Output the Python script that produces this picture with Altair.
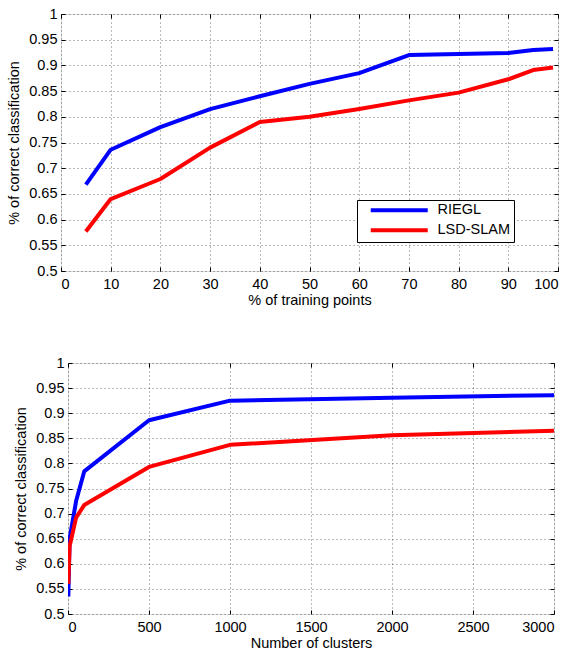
import altair as alt
import pandas as pd

# Classification accuracy vs. percentage of training points
train_pct = [5, 10, 20, 30, 40, 50, 60, 70, 80, 90, 95, 99]
train_riegl = [0.668, 0.736, 0.780, 0.815, 0.840, 0.864, 0.885, 0.920, 0.922, 0.924, 0.930, 0.932]
train_lsd = [0.577, 0.640, 0.679, 0.740, 0.790, 0.800, 0.815, 0.832, 0.847, 0.873, 0.891, 0.896]

# Classification accuracy vs. number of clusters
clusters = [2, 10, 50, 100, 500, 1000, 2000, 3000]
clu_riegl = [0.535, 0.650, 0.725, 0.784, 0.886, 0.925, 0.931, 0.936]
clu_lsd = [0.560, 0.635, 0.692, 0.717, 0.793, 0.837, 0.856, 0.865]

series_names = ["RIEGL", "LSD-SLAM"]
series_colors = ["#0000ff", "#ff0000"]
y_ticks = [0.5 + 0.05 * i for i in range(11)]

FONT = "Liberation Sans"
FS = 14.5
LEG_PAD = 3
TICK = 4  # inward tick length


def long_table(xs, a, b):
    rows = []
    for x, v in zip(xs, a):
        rows.append({"x": x, "y": v, "series": series_names[0]})
    for x, v in zip(xs, b):
        rows.append({"x": x, "y": v, "series": series_names[1]})
    return pd.DataFrame(rows)


text_style = dict(
    labelFont=FONT,
    labelFontSize=FS,
    labelColor="#000000",
    titleFont=FONT,
    titleFontSize=FS,
    titleFontWeight="normal",
    titleColor="#000000",
)
# axes pulled inside the frame so that their ticks point inward
tick_style = dict(domain=False, ticks=True, tickSize=TICK, tickColor="#000000",
                  tickWidth=1, offset=-TICK)


def panel(df, x_domain, x_ticks, x_title, w, h, leg_x, leg_y):
    x_scale = alt.Scale(domain=x_domain, nice=False, zero=False)
    y_scale = alt.Scale(domain=[0.5, 1.0], nice=False, zero=False)
    grid = dict(grid=True, gridColor="#000000", gridDash=[1, 3], gridOpacity=0.55, gridWidth=1)

    lines = (
        alt.Chart(df)
        .mark_line(strokeWidth=4, strokeJoin="round", strokeCap="butt", clip=True)
        .encode(
            x=alt.X(
                "x:Q", scale=x_scale,
                axis=alt.Axis(values=x_ticks, title=x_title, labelPadding=6,
                              titlePadding=3, format="d", **grid, **tick_style, **text_style),
            ),
            y=alt.Y(
                "y:Q", scale=y_scale,
                axis=alt.Axis(values=y_ticks, title="% of correct classification",
                              format=".2~f", labelPadding=4, titlePadding=7,
                              **grid, **tick_style, **text_style),
            ),
            color=alt.Color(
                "series:N",
                scale=alt.Scale(domain=series_names, range=series_colors),
                legend=alt.Legend(
                    title=None,
                    orient="none",
                    legendX=leg_x,
                    legendY=leg_y,
                    symbolType="M-5.7,0L5.7,0",
                    symbolStrokeWidth=4,
                    symbolSize=100,
                    symbolOffset=32,
                    labelOffset=31,
                    labelFont=FONT,
                    labelFontSize=FS,
                    labelColor="#000000",
                    strokeColor="#000000",
                    fillColor="#ffffff",
                    padding=LEG_PAD,
                    rowPadding=3,
                ),
            ),
            order=alt.Order("x:Q"),
        )
    )

    # tick-only axes on the top and right edges of the frame
    frame_ticks = (
        alt.Chart(df)
        .mark_line(opacity=0)
        .encode(
            x=alt.X("x:Q", scale=x_scale,
                    axis=alt.Axis(orient="top", values=x_ticks, labels=False, title=None,
                                  grid=False, **tick_style)),
            y=alt.Y("y:Q", scale=y_scale,
                    axis=alt.Axis(orient="right", values=y_ticks, labels=False, title=None,
                                  grid=False, **tick_style)),
            detail="series:N",
        )
    )

    return (
        alt.layer(lines, frame_ticks)
        .resolve_axis(x="independent", y="independent")
        .properties(width=w, height=h)
    )


top = panel(long_table(train_pct, train_riegl, train_lsd), [0, 100],
            list(range(0, 101, 10)), "% of training points", 497, 257, 296, 186)
bottom = panel(long_table(clusters, clu_riegl, clu_lsd), [0, 3000],
               list(range(0, 3001, 500)), "Number of clusters", 486, 251, 252, 180)

# narrow invisible column that shifts the lower panel to the right
spacer = (
    alt.Chart(pd.DataFrame({"s": [0]}))
    .mark_point(opacity=0)
    .encode(x=alt.X("s:Q", axis=None), y=alt.Y("s:Q", axis=None))
    .properties(width=7, height=1, view=alt.ViewConfig(stroke="transparent"))
)

chart = (
    alt.vconcat(top, alt.hconcat(spacer, bottom, spacing=0, bounds="flush"), spacing=46)
    .properties(padding={"left": 6, "top": 5, "right": 8, "bottom": 2})
    .configure_view(stroke="#000000", strokeWidth=1)
    .configure(background="#ffffff")
)

chart.save("out.html", embed_options={"renderer": "svg", "actions": False})
